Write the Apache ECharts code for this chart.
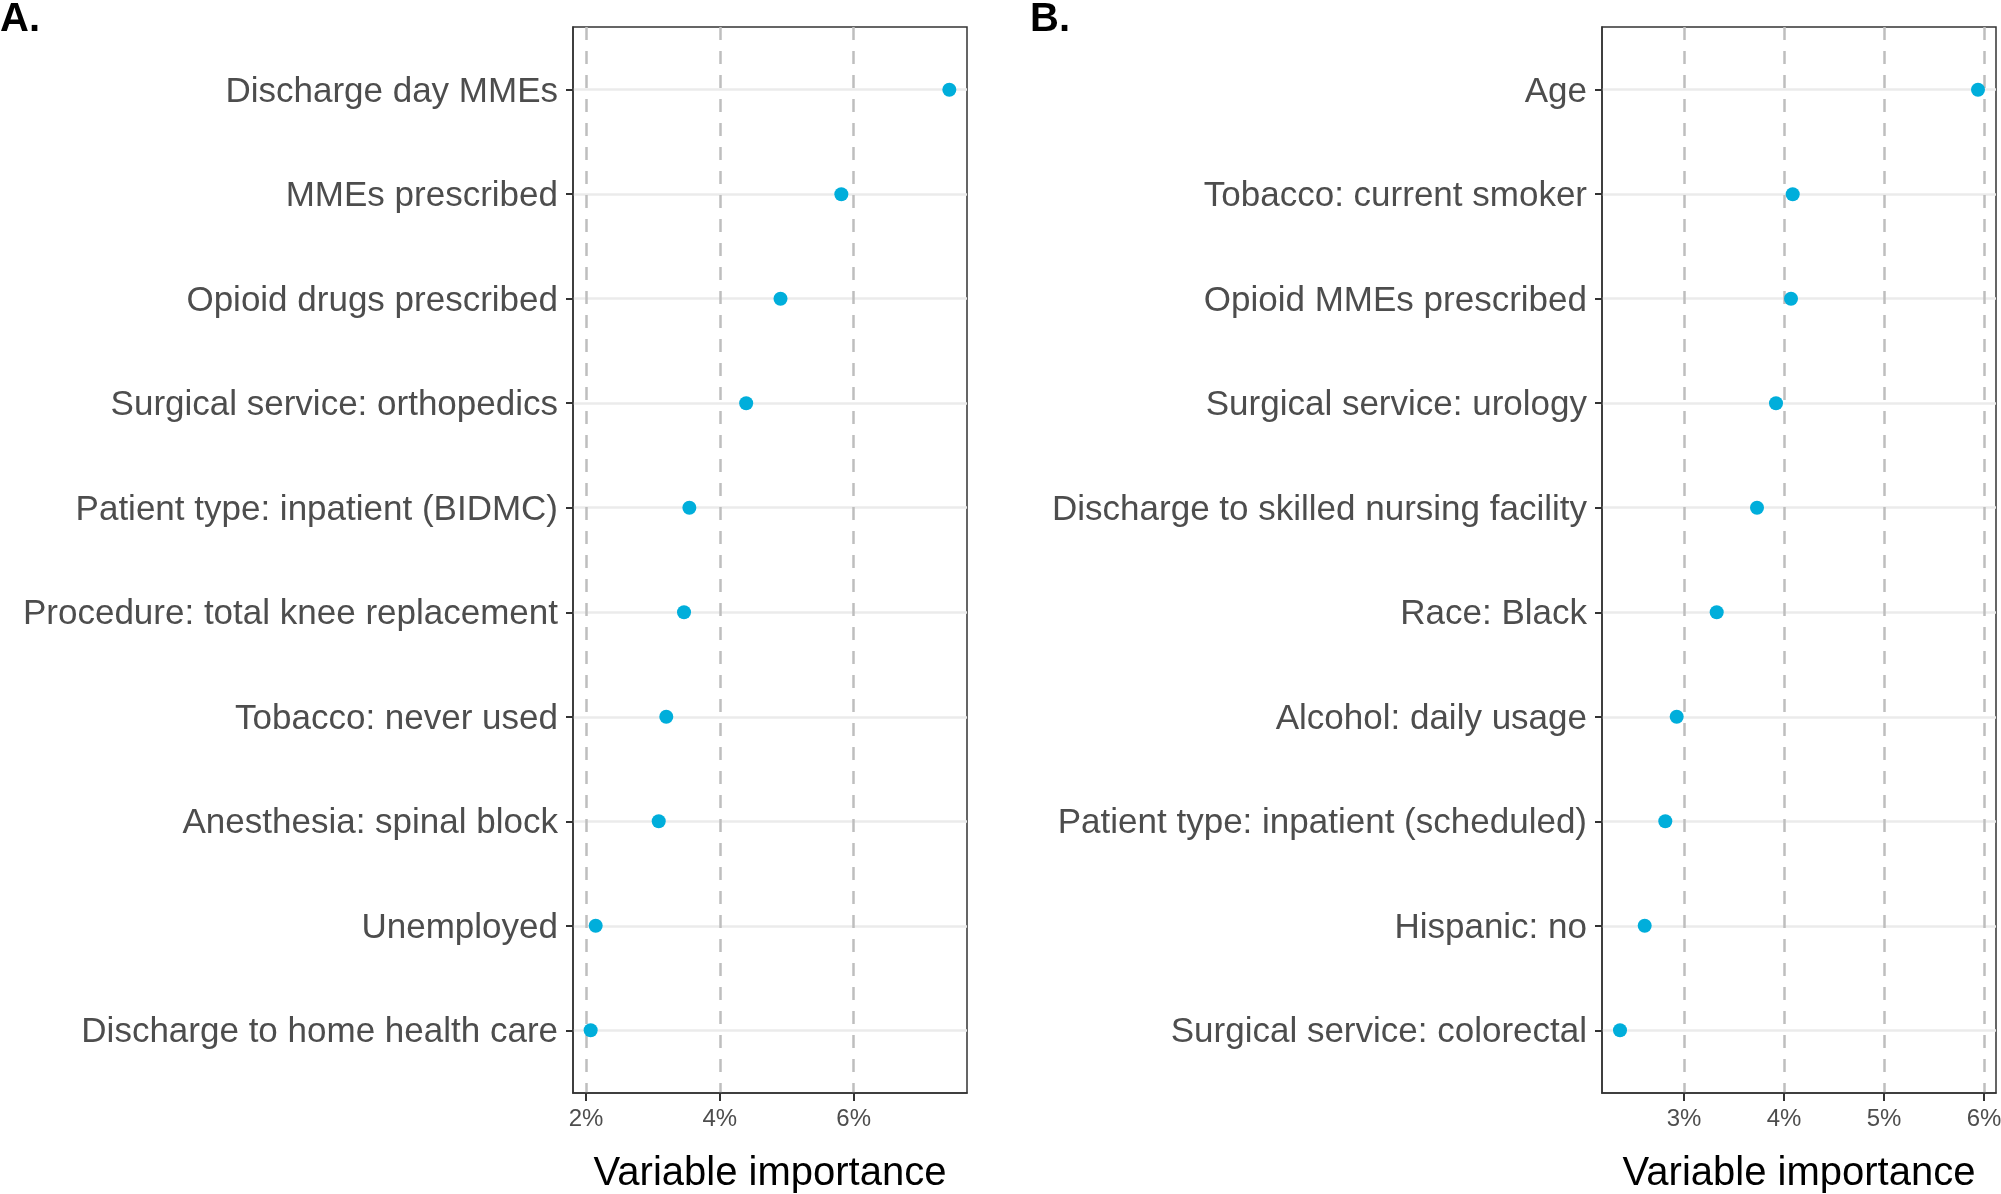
<!DOCTYPE html>
<html>
<head>
<meta charset="utf-8">
<script src="https://cdn.jsdelivr.net/npm/echarts@6/dist/echarts.min.js"></script>
<style>
html,body{margin:0;padding:0;background:#fff;}
#chart{width:2001px;height:1194px;}
</style>
</head>
<body>
<div id="chart"></div>
<script>
// Panel A
var categoriesA = [
  "Discharge day MMEs",
  "MMEs prescribed",
  "Opioid drugs prescribed",
  "Surgical service: orthopedics",
  "Patient type: inpatient (BIDMC)",
  "Procedure: total knee replacement",
  "Tobacco: never used",
  "Anesthesia: spinal block",
  "Unemployed",
  "Discharge to home health care"
];
var valuesA = [7.43, 5.816, 4.907, 4.394, 3.545, 3.465, 3.20, 3.087, 2.145, 2.07];
var ticksA = [2, 4, 6];

// Panel B
var categoriesB = [
  "Age",
  "Tobacco: current smoker",
  "Opioid MMEs prescribed",
  "Surgical service: urology",
  "Discharge to skilled nursing facility",
  "Race: Black",
  "Alcohol: daily usage",
  "Patient type: inpatient (scheduled)",
  "Hispanic: no",
  "Surgical service: colorectal"
];
var valuesB = [5.94, 4.087, 4.07, 3.92, 3.73, 3.327, 2.927, 2.813, 2.607, 2.36];
var ticksB = [3, 4, 5, 6];

var panelLabels = ["A.", "B."];
var xTitle = "Variable importance";

var FONT = "'Liberation Sans', Arial, Helvetica, sans-serif";
var chart = echarts.init(document.getElementById('chart'), null, {renderer: 'canvas'});

function positions(cats) { return cats.map(function (c, i) { return i + 1; }); }

function yAxisFor(cats, gridIndex) {
  var pos = positions(cats);
  return {
    type: 'value', gridIndex: gridIndex, inverse: true,
    min: 0.4, max: cats.length + 0.6,
    axisLine: {show: true, lineStyle: {color: '#333333', width: 1.5}},
    axisTick: {show: true, customValues: pos, length: 7, lineStyle: {color: '#333333', width: 2}},
    axisLabel: {
      customValues: pos, margin: 15, fontSize: 35, color: '#4d4d4d', fontFamily: FONT,
      formatter: function (v) { return '{l|' + cats[Math.round(v) - 1] + '}'; },
      rich: {l: {fontSize: 35, color: '#4d4d4d', fontFamily: FONT, padding: [5, 0, 0, 0]}}
    },
    splitLine: {show: true, lineStyle: {color: '#ebebeb', width: 2.5}}
  };
}

function xAxisFor(min, max, ticks, gridIndex) {
  return {
    type: 'value', gridIndex: gridIndex, min: min, max: max,
    axisLine: {show: true, onZero: false, lineStyle: {color: '#333333', width: 1.5}},
    axisTick: {show: true, customValues: ticks, length: 8, lineStyle: {color: '#333333', width: 2}},
    axisLabel: {
      customValues: ticks, margin: 14, fontSize: 24, color: '#4d4d4d', fontFamily: FONT,
      formatter: function (v) { return Math.round(v) + '%'; }
    },
    splitLine: {show: true, lineStyle: {color: '#bebebe', width: 2.5, type: [13, 11]}},
    name: xTitle, nameLocation: 'middle', nameGap: 61,
    nameTextStyle: {fontSize: 40, color: '#000000', fontFamily: FONT}
  };
}

function seriesFor(vals, idx) {
  return {
    type: 'scatter', xAxisIndex: idx, yAxisIndex: idx,
    symbol: 'circle', symbolSize: 14,
    itemStyle: {color: '#00AEDB', opacity: 1},
    data: vals.map(function (v, i) { return [v, i + 1]; }),
    z: 5
  };
}

var option = {
  backgroundColor: '#ffffff',
  animation: false,
  grid: [
    {left: 573, top: 27, width: 394, height: 1066, show: true, borderColor: '#333333', borderWidth: 1.5,
     backgroundColor: 'transparent', containLabel: false, outerBoundsMode: 'none'},
    {left: 1602, top: 27, width: 394, height: 1066, show: true, borderColor: '#333333', borderWidth: 1.5,
     backgroundColor: 'transparent', containLabel: false, outerBoundsMode: 'none'}
  ],
  xAxis: [xAxisFor(1.806, 7.694, ticksA, 0), xAxisFor(2.18, 6.12, ticksB, 1)],
  yAxis: [yAxisFor(categoriesA, 0), yAxisFor(categoriesB, 1)],
  series: [seriesFor(valuesA, 0), seriesFor(valuesB, 1)],
  graphic: [
    {type: 'text', left: 0, top: 0, style: {text: panelLabels[0], font: 'bold 40px ' + FONT, fill: '#000'}},
    {type: 'text', left: 1030, top: 0, style: {text: panelLabels[1], font: 'bold 40px ' + FONT, fill: '#000'}}
  ]
};
chart.setOption(option);
</script>
</body>
</html>
